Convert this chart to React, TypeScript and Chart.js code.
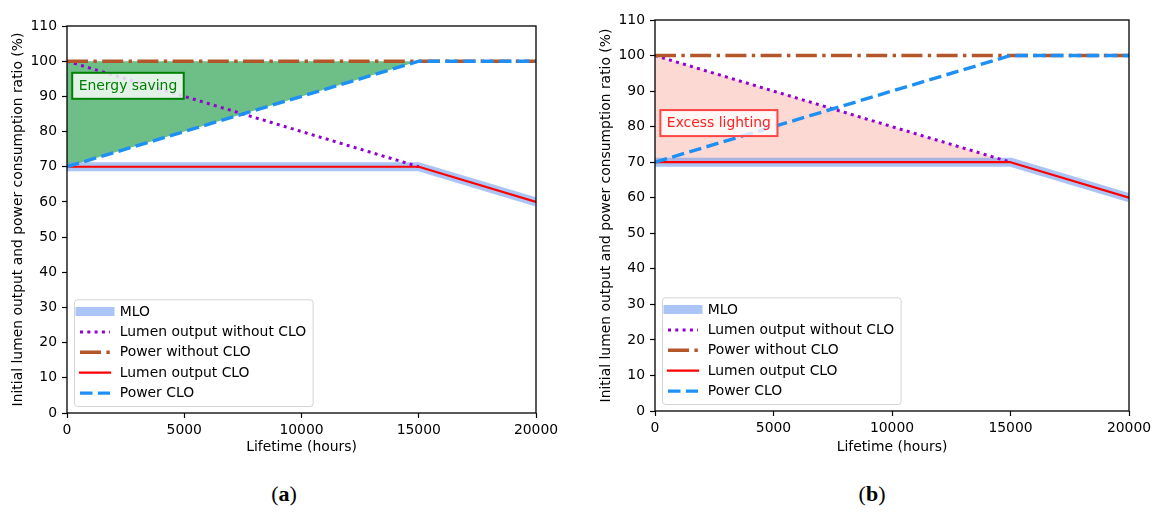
import React, { useEffect, useRef } from "react";
import { Chart, registerables } from "chart.js";

Chart.register(...registerables);

// ---------- data ----------
const hours = [0, 15000, 20000];
const mloValues = [70, 70, 60];
const lumenWithoutCloHours = [0, 15000];
const lumenWithoutCloValues = [100, 70];
const powerWithoutCloValues = [100, 100, 100];
const lumenCloValues = [70, 70, 60];
const powerCloValues = [70, 100, 100];
const seriesLabels = [
  "MLO",
  "Lumen output without CLO",
  "Power without CLO",
  "Lumen output CLO",
  "Power CLO",
];
const xTickValues = [0, 5000, 10000, 15000, 20000];
const yTickValues = [0, 10, 20, 30, 40, 50, 60, 70, 80, 90, 100, 110];
const xAxisTitle = "Lifetime (hours)";
const yAxisTitle = "Initial lumen output and power consumption ratio (%)";
const energyNoteText = "Energy saving";
const energyNoteAt = [500, 93];
const excessNoteText = "Excess lighting";
const excessNoteAt = [500, 81];

// ---------- styles ----------
const FONT = '"DejaVu Sans", "Liberation Sans", sans-serif';
const FS = 13.9;
const C_MLO = "rgba(100,149,237,0.55)";
const C_PURPLE = "#9400d3";
const C_BROWN = "#b4552a";
const C_RED = "#ff0000";
const C_BLUE = "#1e8ff5";
const C_GREEN_FILL = "rgb(110,190,135)";
const C_PINK_FILL = "rgba(250,128,114,0.3)";

const pts = (xs: number[], ys: number[]) => xs.map((x, i) => ({ x, y: ys[i] }));

type Variant = "a" | "b";

function buildDatasets(variant: Variant): any[] {
  return [
    {
      label: seriesLabels[0],
      data: pts(hours, mloValues),
      borderColor: C_MLO,
      borderWidth: 9,
      borderJoinStyle: "round",
      order: 5,
      fill: false,
    },
    {
      label: seriesLabels[1],
      data: pts(lumenWithoutCloHours, lumenWithoutCloValues),
      borderColor: C_PURPLE,
      borderWidth: 3,
      borderDash: [3, 4.3],
      order: 4,
      fill: variant === "b" ? { value: 70 } : false,
      backgroundColor: C_PINK_FILL,
    },
    {
      label: seriesLabels[2],
      data: pts(hours, powerWithoutCloValues),
      borderColor: C_BROWN,
      borderWidth: 3.4,
      borderDash: [21, 5.4, 3.4, 5.4],
      order: 3,
      fill: variant === "a" ? { target: 4 } : false,
      backgroundColor: C_GREEN_FILL,
    },
    {
      label: seriesLabels[3],
      data: pts(hours, lumenCloValues),
      borderColor: C_RED,
      borderWidth: 2.2,
      borderJoinStyle: "round",
      order: 2,
      fill: false,
    },
    {
      label: seriesLabels[4],
      data: pts(hours, powerCloValues),
      borderColor: C_BLUE,
      borderWidth: 3.4,
      borderDash: [12.5, 5.4],
      order: 1,
      fill: false,
    },
  ];
}

function drawNote(chart: any, text: string, at: number[], textColor: string, borderColor: string) {
  const { ctx, scales } = chart;
  const px = scales.x.getPixelForValue(at[0]);
  const py = scales.y.getPixelForValue(at[1]);
  ctx.save();
  ctx.font = `${FS}px ${FONT}`;
  const w = ctx.measureText(text).width;
  const padX = 6.5;
  const h = 26;
  ctx.fillStyle = "rgba(255,255,255,0.8)";
  ctx.fillRect(px - padX, py - h / 2, w + 2 * padX, h);
  ctx.strokeStyle = borderColor;
  ctx.lineWidth = 2;
  ctx.strokeRect(px - padX, py - h / 2, w + 2 * padX, h);
  ctx.fillStyle = textColor;
  ctx.textBaseline = "middle";
  ctx.textAlign = "left";
  ctx.fillText(text, px, py + 0.5);
  ctx.restore();
}

function drawLegend(chart: any) {
  const { ctx, chartArea } = chart;
  const ds = chart.data.datasets;
  ctx.save();
  ctx.font = `${FS}px ${FONT}`;
  const rowH = 20.4;
  let maxW = 0;
  ds.forEach((d: any) => (maxW = Math.max(maxW, ctx.measureText(d.label).width)));
  const boxLeft = chartArea.left + 7.5;
  const boxH = 11.7 + (ds.length - 1) * rowH + 13.4;
  const boxTop = chartArea.bottom - 6.5 - boxH;
  const boxW = 45.3 + maxW + 7;
  ctx.beginPath();
  (ctx as any).roundRect(boxLeft, boxTop, boxW, boxH, 3);
  ctx.fillStyle = "rgba(255,255,255,0.8)";
  ctx.fill();
  ctx.strokeStyle = "#d4d4d4";
  ctx.lineWidth = 1;
  ctx.stroke();
  ds.forEach((d: any, i: number) => {
    const cy = boxTop + 11.7 + i * rowH;
    const x0 = boxLeft + 5.5;
    const x1 = x0 + 30;
    ctx.save();
    ctx.strokeStyle = d.borderColor;
    ctx.lineWidth = d.borderWidth;
    ctx.setLineDash(d.borderDash || []);
    ctx.lineCap = d.borderDash ? "butt" : "square";
    ctx.beginPath();
    ctx.moveTo(x0, cy);
    ctx.lineTo(x1, cy);
    ctx.stroke();
    ctx.restore();
    ctx.fillStyle = "#000";
    ctx.textBaseline = "middle";
    ctx.textAlign = "left";
    ctx.fillText(d.label, boxLeft + 45.3, cy + 0.5);
  });
  ctx.restore();
}

function makeOverlay(variant: Variant) {
  return {
    id: "overlay" + variant,
    afterDraw(chart: any) {
      const { ctx, chartArea } = chart;
      ctx.save();
      ctx.strokeStyle = "#000";
      ctx.lineWidth = 1.3;
      ctx.strokeRect(chartArea.left, chartArea.top, chartArea.right - chartArea.left, chartArea.bottom - chartArea.top);
      ctx.restore();
      if (variant === "a") drawNote(chart, energyNoteText, energyNoteAt, "rgb(0,128,0)", "rgb(0,128,0)");
      else drawNote(chart, excessNoteText, excessNoteAt, "#ff2020", "#ff4545");
      drawLegend(chart);
    },
  };
}

type PanelProps = {
  variant: Variant;
  left: number;
  width: number;
  height: number;
  yAxisWidth: number;
  xAxisHeight: number;
  padTop: number;
  padRight: number;
  yTitlePad: number;
};

function Panel(p: PanelProps) {
  const ref = useRef<HTMLCanvasElement | null>(null);
  useEffect(() => {
    if (!ref.current) return;
    const font = { family: FONT, size: FS };
    const chart = new Chart(ref.current, {
      type: "line",
      data: { datasets: buildDatasets(p.variant) },
      options: {
        animation: false,
        responsive: false,
        devicePixelRatio: 1,
        layout: { padding: { top: p.padTop, right: p.padRight, left: 0, bottom: 0 } },
        elements: { point: { radius: 0, hoverRadius: 0 }, line: { tension: 0 } },
        datasets: { line: { clip: 0 } as any },
        plugins: {
          legend: { display: false },
          tooltip: { enabled: false },
          filler: { drawTime: "beforeDatasetsDraw" } as any,
        },
        scales: {
          x: {
            type: "linear",
            min: 0,
            max: 20000,
            afterBuildTicks: (s: any) => {
              s.ticks = xTickValues.map((v) => ({ value: v }));
            },
            afterFit: (s: any) => {
              s.height = p.xAxisHeight;
            },
            border: { display: false },
            grid: { drawOnChartArea: false, drawTicks: true, tickLength: 5, color: "#000", tickWidth: 1.2 } as any,
            ticks: { font, color: "#000", padding: 4, maxRotation: 0, autoSkip: false, callback: (v: any) => String(v) },
            title: { display: true, text: xAxisTitle, font, color: "#000", padding: { top: 0, bottom: 14.5 } },
          },
          y: {
            type: "linear",
            min: 0,
            max: 110,
            afterBuildTicks: (s: any) => {
              s.ticks = yTickValues.map((v) => ({ value: v }));
            },
            afterFit: (s: any) => {
              s.width = p.yAxisWidth;
            },
            border: { display: false },
            grid: { drawOnChartArea: false, drawTicks: true, tickLength: 5, color: "#000", tickWidth: 1.2 } as any,
            ticks: { font, color: "#000", padding: 5, autoSkip: false, callback: (v: any) => String(v) },
            title: { display: true, text: yAxisTitle, font, color: "#000", padding: { top: p.yTitlePad, bottom: 0 } },
          },
        },
      },
      plugins: [makeOverlay(p.variant)],
    });
    return () => chart.destroy();
  }, []);
  return (
    <canvas
      ref={ref}
      width={p.width}
      height={p.height}
      style={{ position: "absolute", left: p.left, top: 0, width: p.width, height: p.height }}
    />
  );
}

const captionStyle: React.CSSProperties = {
  position: "absolute",
  top: 481,
  width: 60,
  textAlign: "center",
  fontFamily: '"Liberation Serif", "DejaVu Serif", serif',
  fontSize: 22,
  color: "#000",
  lineHeight: "26px",
};

export default function App() {
  return (
    <div style={{ position: "fixed", left: 0, top: 0, width: 1156, height: 514, background: "#fff", overflow: "hidden" }}>
      <Panel variant="a" left={0} width={580} height={470} yAxisWidth={67} xAxisHeight={57} padTop={26} padRight={44} yTitlePad={10} />
      <Panel variant="b" left={580} width={576} height={470} yAxisWidth={75} xAxisHeight={59} padTop={20} padRight={27} yTitlePad={18} />
      <div style={{ ...captionStyle, left: 284 - 30 }}>
        (<b>a</b>)
      </div>
      <div style={{ ...captionStyle, left: 872 - 30 }}>
        (<b>b</b>)
      </div>
    </div>
  );
}
